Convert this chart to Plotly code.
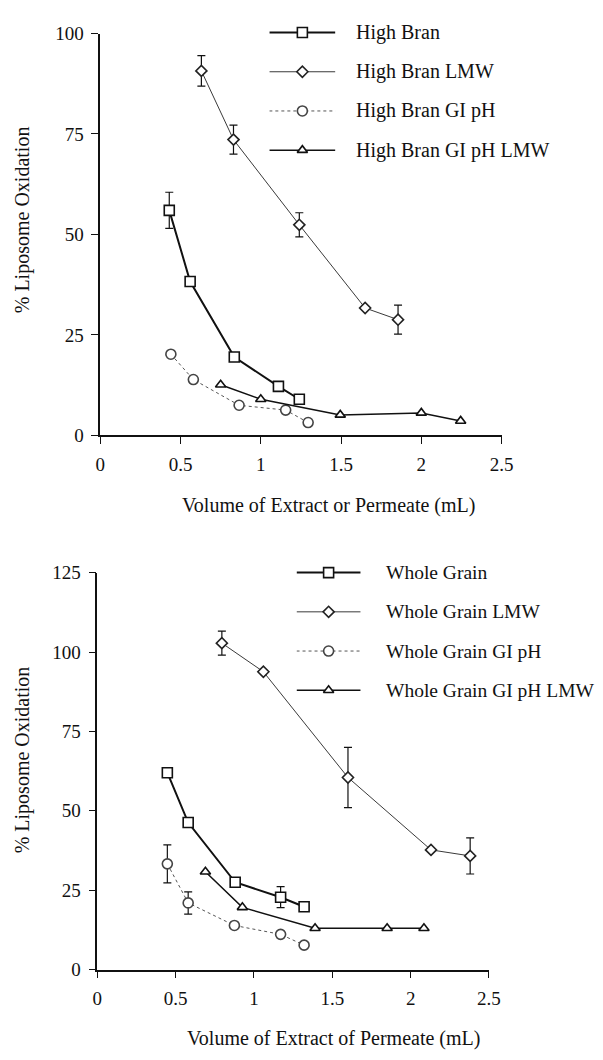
import plotly.graph_objects as go

W, H = 603, 1060

# ---------------- data: top panel (High Bran) ----------------
hb_x = [0.43, 0.56, 0.835, 1.11, 1.24]
hb_y = [56.0, 38.3, 19.5, 12.2, 9.0]
hb_err = [4.5, 0, 0, 0, 0]

hbl_x = [0.63, 0.83, 1.24, 1.65, 1.855]
hbl_y = [90.7, 73.6, 52.4, 31.7, 28.8]
hbl_err = [3.8, 3.6, 3.0, 0, 3.6]

hbg_x = [0.44, 0.58, 0.865, 1.155, 1.295]
hbg_y = [20.2, 13.9, 7.5, 6.3, 3.2]

hbgl_x = [0.75, 1.0, 1.495, 2.0, 2.245]
hbgl_y = [12.6, 9.0, 5.1, 5.6, 3.6]

# ---------------- data: bottom panel (Whole Grain) ----------------
wg_x = [0.447, 0.58, 0.88, 1.17, 1.32]
wg_y = [62.0, 46.3, 27.5, 22.8, 19.8]
wg_err = [0, 0, 0, 3.3, 0]

wgl_x = [0.795, 1.06, 1.6, 2.13, 2.38]
wgl_y = [102.8, 93.8, 60.5, 37.7, 35.8]
wgl_err = [3.8, 0, 9.5, 0, 5.7]

wgg_x = [0.447, 0.58, 0.875, 1.17, 1.32]
wgg_y = [33.3, 21.0, 13.9, 11.1, 7.7]
wgg_err = [6.0, 3.5, 0, 0, 0]

wggl_x = [0.69, 0.926, 1.39, 1.85, 2.085]
wggl_y = [30.8, 19.6, 13.0, 13.0, 13.0]

x_ticks = [0, 0.5, 1, 1.5, 2, 2.5]
x_tick_text = ["0", "0.5", "1", "1.5", "2", "2.5"]
top_y_ticks = [0, 25, 50, 75, 100]
bot_y_ticks = [0, 25, 50, 75, 100, 125]

top_names = ["High Bran", "High Bran LMW", "High Bran GI pH", "High Bran GI pH LMW"]
bot_names = ["Whole Grain", "Whole Grain LMW", "Whole Grain GI pH", "Whole Grain GI pH LMW"]

FONT = "Liberation Serif"
FS = 19

# series styles: (symbol, line color, width, dash, marker size, marker outline color)
styles = [
    ("square", "#111111", 2.0, "solid", 10, "#111111"),
    ("diamond", "#3a3a3a", 1.0, "solid", 8.5, "#222222"),
    ("circle", "#555555", 1.0, "dot", 10, "#444444"),
    ("triangle-up", "#111111", 1.5, "solid", 9, "#111111"),
]


def series(x, y, style, xa, ya, err=None):
    sym, col, w, dash, ms, mc = style
    t = go.Scatter(
        x=x, y=y, mode="lines+markers", xaxis=xa, yaxis=ya, showlegend=False,
        line=dict(color=col, width=w, dash=dash),
        marker=dict(symbol=sym, size=ms, color="white", line=dict(color=mc, width=1.6)),
        cliponaxis=False,
    )
    if err is not None:
        t.error_y = dict(type="data", array=err, visible=True, color="#111111",
                         thickness=1.2, width=4)
    return t


fig = go.Figure()

fig.add_trace(series(hbl_x, hbl_y, styles[1], "x", "y", hbl_err))
fig.add_trace(series(hbg_x, hbg_y, styles[2], "x", "y"))
fig.add_trace(series(hbgl_x, hbgl_y, styles[3], "x", "y"))
fig.add_trace(series(hb_x, hb_y, styles[0], "x", "y", hb_err))

fig.add_trace(series(wgl_x, wgl_y, styles[1], "x2", "y2", wgl_err))
fig.add_trace(series(wgg_x, wgg_y, styles[2], "x2", "y2", wgg_err))
fig.add_trace(series(wggl_x, wggl_y, styles[3], "x2", "y2"))
fig.add_trace(series(wg_x, wg_y, styles[0], "x2", "y2", wg_err))

# custom legends on hidden axes (rows 0..3)
for xa, ya in (("x3", "y3"), ("x4", "y4")):
    for i, st in enumerate(styles):
        sym, col, w, dash, ms, mc = st
        fig.add_trace(go.Scatter(
            x=[0, 0.5, 1], y=[i, i, i], mode="lines", xaxis=xa, yaxis=ya,
            showlegend=False, line=dict(color=col, width=w, dash=dash), hoverinfo="skip"))
        fig.add_trace(go.Scatter(
            x=[0.5], y=[i], mode="markers", xaxis=xa, yaxis=ya, showlegend=False,
            marker=dict(symbol=sym, size=ms, color="white", line=dict(color=mc, width=1.6)),
            hoverinfo="skip", cliponaxis=False))


def px_x(p):
    return p / W


def px_y(p):
    return 1 - p / H


axis_common = dict(showgrid=False, zeroline=False, showline=True, linecolor="#111111",
                   linewidth=1.5, ticks="outside", ticklen=7, tickwidth=1.3, tickcolor="#111111",
                   ticklabelstandoff=4,
                   tickfont=dict(family=FONT, size=FS, color="#111111"), mirror=False)

fig.update_layout(
    width=W, height=H, margin=dict(l=0, r=0, t=0, b=0),
    paper_bgcolor="white", plot_bgcolor="white", showlegend=False,
    xaxis=dict(domain=[px_x(98), px_x(511)], range=[0, 2.5], anchor="y",
               tickvals=x_ticks, ticktext=x_tick_text, **axis_common),
    yaxis=dict(domain=[px_y(434), px_y(24)], range=[0, 100], anchor="x",
               tickvals=top_y_ticks, **axis_common),
    xaxis2=dict(domain=[px_x(95), px_x(498)], range=[0, 2.5], anchor="y2",
                tickvals=x_ticks, ticktext=x_tick_text, **axis_common),
    yaxis2=dict(domain=[px_y(979), px_y(574)], range=[0, 125], anchor="x2",
                tickvals=bot_y_ticks, **axis_common),
    xaxis3=dict(domain=[px_x(272), px_x(340)], range=[0, 1], visible=False, anchor="y3"),
    yaxis3=dict(domain=[px_y(163), px_y(3)], range=[3.5, -0.5], visible=False, anchor="x3"),
    xaxis4=dict(domain=[px_x(300), px_x(366)], range=[0, 1], visible=False, anchor="y4"),
    yaxis4=dict(domain=[px_y(714), px_y(554)], range=[3.5, -0.5], visible=False, anchor="x4"),
)

ann = []
for i, name in enumerate(top_names):
    ann.append(dict(x=px_x(359), y=px_y(23 + 40 * i), xref="paper", yref="paper",
                    text=name, showarrow=False, xanchor="left", yanchor="middle",
                    font=dict(family=FONT, size=20, color="#111111")))
for i, name in enumerate(bot_names):
    ann.append(dict(x=px_x(390), y=px_y(574 + 40 * i), xref="paper", yref="paper",
                    text=name, showarrow=False, xanchor="left", yanchor="middle",
                    font=dict(family=FONT, size=19.5, color="#111111")))

ann += [
    dict(x=px_x(333), y=px_y(506), xref="paper", yref="paper", showarrow=False,
         text="Volume of Extract or Permeate (mL)", xanchor="center", yanchor="middle",
         font=dict(family=FONT, size=20, color="#111111")),
    dict(x=px_x(338), y=px_y(1049), xref="paper", yref="paper", showarrow=False,
         text="Volume of Extract of Permeate (mL)", xanchor="center", yanchor="middle",
         font=dict(family=FONT, size=20, color="#111111")),
    dict(x=px_x(18), y=px_y(214), xref="paper", yref="paper", showarrow=False,
         text="% Liposome Oxidation", textangle=-90, xanchor="center", yanchor="middle",
         font=dict(family=FONT, size=20, color="#111111")),
    dict(x=px_x(18), y=px_y(765), xref="paper", yref="paper", showarrow=False,
         text="% Liposome Oxidation", textangle=-90, xanchor="center", yanchor="middle",
         font=dict(family=FONT, size=20, color="#111111")),
]
fig.update_layout(annotations=ann)

fig.write_html("out.html")
